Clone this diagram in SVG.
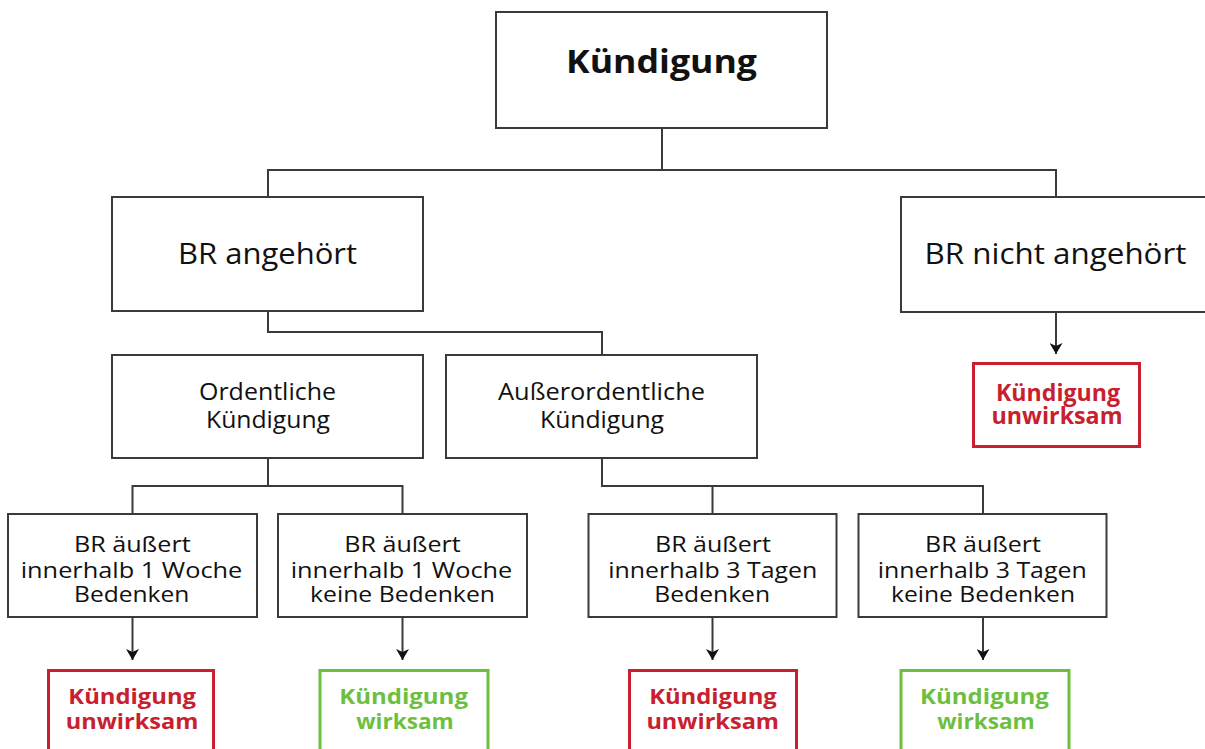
<svg xmlns="http://www.w3.org/2000/svg" width="1205" height="749" viewBox="0 0 1205 749">
<defs>
<style>
.box{fill:#fff;stroke:#3a3a3a;stroke-width:2}
.red{fill:#fff;stroke:#c8202f;stroke-width:3}
.grn{fill:#fff;stroke:#6cbf3f;stroke-width:3}
.con{fill:none;stroke:#3a3a3a;stroke-width:2}
text{font-family:"Open Sans","Noto Sans","Liberation Sans",sans-serif;text-anchor:middle;fill:#111}
.t1{font-size:32px;font-weight:bold}
.t2{font-size:29.5px}
.t3{font-size:24px}
.t4{font-size:21px}
.t5{font-size:22px}
.rt{font-weight:bold;fill:#c8202f}
.gt{font-weight:bold;fill:#6cbf3f}
</style>
<marker id="ah" markerUnits="userSpaceOnUse" markerWidth="12" markerHeight="13" refX="11" refY="6.5" orient="auto" viewBox="0 0 12 13">
<path d="M0,0 L11,6.5 L0,13 L3,6.5 z" fill="#111"/>
</marker>
</defs>
<rect width="1205" height="749" fill="#fff"/>
<g id="connectors">
<path class="con" d="M662,128 V170 M268,196 V170 H1056 V197"/>
<path class="con" d="M268,311 V332 H602 V355"/>
<path class="con" d="M268,458 V486 M132.5,514 V486 H402.5 V514"/>
<path class="con" d="M602,458 V486 H983 V514 M712.5,486 V514"/>
<path class="con" d="M1056,312 V354" marker-end="url(#ah)"/>
<path class="con" d="M132.5,617 V660" marker-end="url(#ah)"/>
<path class="con" d="M402.5,617 V660" marker-end="url(#ah)"/>
<path class="con" d="M712.5,617 V660" marker-end="url(#ah)"/>
<path class="con" d="M983,617 V660" marker-end="url(#ah)"/>
</g>
<g id="kuendigung">
<rect class="box" x="496" y="12" width="331" height="116"/>
<text class="t1" x="661.5" y="73" textLength="191" lengthAdjust="spacingAndGlyphs">Kündigung</text>
</g>
<g id="br-angehoert">
<rect class="box" x="112" y="197" width="311" height="114"/>
<text class="t2" x="267.5" y="264" textLength="179" lengthAdjust="spacingAndGlyphs">BR angehört</text>
</g>
<g id="br-nicht-angehoert">
<rect class="box" x="901" y="197" width="311" height="115"/>
<text class="t2" x="1055.5" y="264" textLength="262" lengthAdjust="spacingAndGlyphs">BR nicht angehört</text>
</g>
<g id="res-nicht-angehoert">
<rect class="red" x="973.5" y="363.5" width="166" height="83"/>
<text class="t3 rt" x="1058" y="401" textLength="124" lengthAdjust="spacingAndGlyphs">Kündigung</text>
<text class="t3 rt" x="1057" y="424" textLength="131" lengthAdjust="spacingAndGlyphs">unwirksam</text>
</g>
<g id="ordentliche">
<rect class="box" x="112" y="355" width="311" height="103"/>
<text class="t3" x="267.5" y="400" textLength="137" lengthAdjust="spacingAndGlyphs">Ordentliche</text>
<text class="t3" x="268" y="428" textLength="124" lengthAdjust="spacingAndGlyphs">Kündigung</text>
</g>
<g id="ausserordentliche">
<rect class="box" x="446" y="355" width="311" height="103"/>
<text class="t3" x="601.5" y="400" textLength="207" lengthAdjust="spacingAndGlyphs">Außerordentliche</text>
<text class="t3" x="602" y="428" textLength="124" lengthAdjust="spacingAndGlyphs">Kündigung</text>
</g>
<g id="woche-bedenken">
<rect class="box" x="8" y="514" width="249" height="103"/>
<text class="t4" x="132.3" y="552" textLength="116.7" lengthAdjust="spacingAndGlyphs">BR äußert</text>
<text class="t4" x="131.5" y="577.5" textLength="221.6" lengthAdjust="spacingAndGlyphs">innerhalb 1 Woche</text>
<text class="t4" x="131.7" y="602" textLength="115.3" lengthAdjust="spacingAndGlyphs">Bedenken</text>
</g>
<g id="woche-keine-bedenken">
<rect class="box" x="278" y="514" width="249" height="103"/>
<text class="t4" x="402.5" y="552" textLength="116.4" lengthAdjust="spacingAndGlyphs">BR äußert</text>
<text class="t4" x="401.5" y="577.5" textLength="221.6" lengthAdjust="spacingAndGlyphs">innerhalb 1 Woche</text>
<text class="t4" x="402.5" y="602" textLength="185" lengthAdjust="spacingAndGlyphs">keine Bedenken</text>
</g>
<g id="tage-bedenken">
<rect class="box" x="588.5" y="514" width="248" height="103"/>
<text class="t4" x="713" y="552" textLength="116" lengthAdjust="spacingAndGlyphs">BR äußert</text>
<text class="t4" x="712.8" y="577.5" textLength="209" lengthAdjust="spacingAndGlyphs">innerhalb 3 Tagen</text>
<text class="t4" x="712.2" y="602" textLength="115.7" lengthAdjust="spacingAndGlyphs">Bedenken</text>
</g>
<g id="tage-keine-bedenken">
<rect class="box" x="858.5" y="514" width="248" height="103"/>
<text class="t4" x="983" y="552" textLength="116" lengthAdjust="spacingAndGlyphs">BR äußert</text>
<text class="t4" x="982.2" y="577.5" textLength="209" lengthAdjust="spacingAndGlyphs">innerhalb 3 Tagen</text>
<text class="t4" x="983" y="602" textLength="184" lengthAdjust="spacingAndGlyphs">keine Bedenken</text>
</g>
<g id="res-1">
<rect class="red" x="48.5" y="670.5" width="165" height="100"/>
<text class="t5 rt" x="132.2" y="704" textLength="127.7" lengthAdjust="spacingAndGlyphs">Kündigung</text>
<text class="t5 rt" x="132" y="729" textLength="132.6" lengthAdjust="spacingAndGlyphs">unwirksam</text>
</g>
<g id="res-2">
<rect class="grn" x="320" y="670.5" width="168" height="100"/>
<text class="t5 gt" x="403.6" y="704" textLength="128.8" lengthAdjust="spacingAndGlyphs">Kündigung</text>
<text class="t5 gt" x="405" y="729" textLength="97.6" lengthAdjust="spacingAndGlyphs">wirksam</text>
</g>
<g id="res-3">
<rect class="red" x="629.5" y="670.5" width="167" height="100"/>
<text class="t5 rt" x="713" y="704" textLength="127.7" lengthAdjust="spacingAndGlyphs">Kündigung</text>
<text class="t5 rt" x="712.7" y="729" textLength="132.6" lengthAdjust="spacingAndGlyphs">unwirksam</text>
</g>
<g id="res-4">
<rect class="grn" x="901" y="670.5" width="168" height="100"/>
<text class="t5 gt" x="984.5" y="704" textLength="128.8" lengthAdjust="spacingAndGlyphs">Kündigung</text>
<text class="t5 gt" x="986" y="729" textLength="97.6" lengthAdjust="spacingAndGlyphs">wirksam</text>
</g>
</svg>
